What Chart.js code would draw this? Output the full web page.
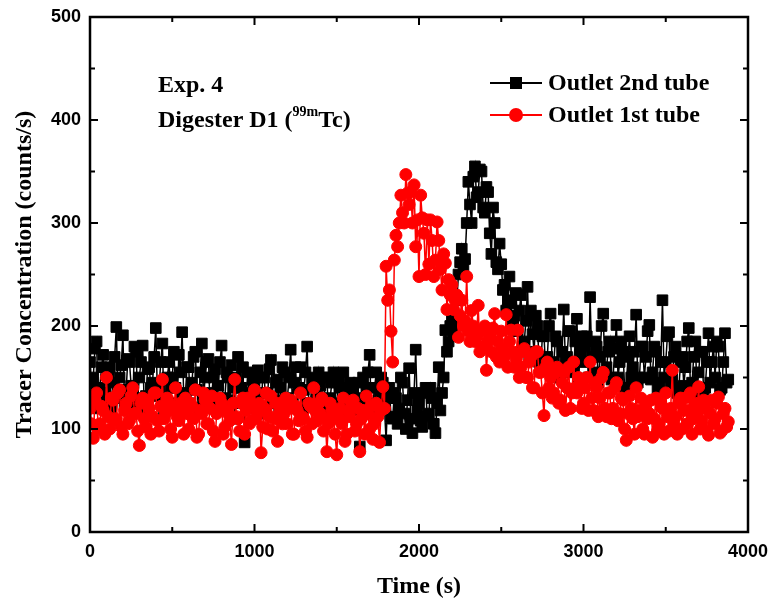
<!DOCTYPE html>
<html>
<head>
<meta charset="utf-8">
<script src="https://cdn.jsdelivr.net/npm/chart.js@4.4.1/dist/chart.umd.min.js"></script>
<style>
  html, body { margin: 0; padding: 0; background: #fff; }
  #wrap { width: 773px; height: 610px; }
</style>
</head>
<body>
<div id="wrap"><canvas id="tracer-chart" width="773" height="610"></canvas></div>
<script>
// sampling step of the detector (s)
const timeStep = 10;

// Outlet 2nd tube (black squares), counts/s, every 10 s from t = 0 (one row = 200 s)
const outlet2nd = [
  165, 140, 150, 178, 185, 120, 140, 160, 172, 135, 128, 155, 160, 118, 145, 170, 199, 130, 150, 162,
  191, 125, 138, 168, 165, 142, 125, 180, 175, 130, 150, 165, 181, 120, 132, 158, 160, 140, 145, 170,
  198, 132, 140, 165, 183, 118, 128, 150, 165, 140, 150, 175, 140, 125, 172, 155, 194, 130, 135, 160,
  160, 125, 145, 170, 175, 138, 120, 155, 183, 130, 150, 165, 168, 122, 135, 150, 158, 120, 142, 165,
  181, 118, 130, 155, 150, 128, 162, 140, 110, 150, 170, 125, 140, 160, 87, 135, 155, 120, 130, 148,
  145, 122, 157, 135, 120, 150, 150, 115, 135, 158, 167, 125, 128, 145, 148, 118, 140, 160, 155, 128,
  130, 150, 177, 125, 145, 160, 120, 140, 160, 118, 138, 155, 180, 125, 125, 148, 150, 120, 135, 155,
  142, 125, 118, 150, 150, 115, 130, 145, 155, 120, 125, 148, 140, 112, 155, 130, 120, 140, 145, 125,
  135, 118, 130, 145, 83, 125, 150, 120, 140, 155, 172, 115, 125, 140, 155, 118, 130, 150, 145, 120,
  89, 130, 140, 112, 110, 135, 130, 105, 120, 150, 145, 115, 100, 128, 159, 110, 96, 135, 177, 118,
  125, 108, 102, 135, 140, 112, 115, 140, 130, 105, 96, 125, 160, 118, 135, 150, 196, 175, 185, 200,
  205, 190, 200, 225, 250, 262, 275, 255, 265, 300, 340, 318, 300, 345, 355, 325, 330, 352, 350, 315,
  310, 335, 330, 290, 270, 315, 300, 262, 255, 280, 260, 235, 240, 215, 225, 248, 222, 200, 210, 232,
  195, 215, 230, 180, 185, 205, 238, 170, 215, 192, 175, 210, 200, 165, 160, 190, 190, 158, 170, 200,
  212, 160, 165, 190, 185, 150, 150, 175, 216, 165, 170, 195, 195, 155, 160, 185, 207, 148, 175, 190,
  165, 180, 190, 150, 228, 170, 155, 185, 180, 145, 170, 200, 212, 155, 160, 175, 185, 148, 150, 178,
  201, 150, 165, 185, 175, 140, 140, 170, 190, 150, 160, 175, 211, 145, 150, 180, 180, 150, 170, 195,
  201, 148, 155, 180, 175, 138, 145, 165, 225, 150, 165, 190, 194, 140, 150, 170, 180, 135, 140, 165,
  170, 142, 160, 185, 198, 140, 145, 170, 185, 135, 155, 175, 175, 138, 140, 165, 193, 145, 165, 180,
  150, 185, 180, 138, 140, 165, 193, 145, 148
];

// Outlet 1st tube (red circles), counts/s, every 10 s from t = 0 (one row = 200 s)
const outlet1st = [
  120, 105, 91, 128, 135, 100, 105, 122, 118, 95, 150, 112, 100, 130, 128, 108, 110, 135, 138, 102,
  95, 118, 125, 105, 108, 132, 140, 115, 115, 98, 84, 125, 130, 110, 102, 128, 120, 95, 112, 135,
  135, 108, 98, 122, 148, 110, 115, 130, 125, 100, 92, 118, 140, 112, 108, 125, 118, 95, 130, 115,
  100, 125, 122, 110, 138, 92, 95, 118, 115, 135, 128, 105, 105, 120, 132, 98, 88, 115, 118, 130,
  125, 95, 102, 118, 115, 108, 85, 125, 148, 112, 110, 98, 125, 130, 95, 118, 130, 105, 108, 122,
  138, 110, 115, 125, 77, 102, 120, 135, 100, 112, 132, 98, 110, 125, 88, 115, 125, 105, 115, 130,
  105, 120, 128, 95, 95, 122, 118, 108, 135, 112, 110, 98, 92, 125, 122, 105, 140, 118, 108, 125,
  115, 130, 98, 110, 78, 105, 125, 118, 110, 95, 75, 112, 120, 105, 130, 88, 95, 118, 112, 125,
  128, 98, 105, 120, 78, 110, 118, 95, 132, 115, 100, 122, 90, 105, 125, 112, 87, 118, 141, 120,
  258, 225, 235, 195, 165, 264, 288, 277, 300, 327, 310, 300, 347, 329, 318, 330, 300, 337, 277, 303,
  248, 327, 305, 290, 250, 303, 260, 303, 283, 248, 264, 301, 283, 255, 235, 270, 261, 216, 245, 230,
  240, 216, 225, 230, 189, 210, 225, 200, 205, 248, 195, 185, 215, 200, 185, 190, 220, 175, 195, 180,
  200, 157, 185, 190, 175, 198, 212, 170, 185, 165, 195, 178, 170, 211, 160, 185, 196, 175, 160, 168,
  196, 150, 160, 175, 178, 150, 150, 165, 170, 140, 140, 175, 175, 155, 155, 135, 113, 160, 165, 140,
  150, 130, 135, 155, 160, 125, 128, 145, 155, 118, 140, 160, 120, 135, 165, 140, 135, 150, 148, 120,
  125, 140, 150, 118, 165, 130, 118, 145, 140, 112, 130, 150, 155, 120, 112, 135, 135, 110, 120, 140,
  145, 108, 115, 130, 128, 100, 89, 115, 132, 120, 110, 95, 140, 112, 118, 130, 100, 95, 125, 110,
  115, 128, 92, 110, 130, 98, 105, 125, 120, 95, 135, 112, 98, 120, 157, 105, 112, 95, 125, 130,
  100, 118, 130, 105, 118, 135, 95, 110, 125, 115, 141, 100, 108, 128, 120, 98, 94, 115, 128, 105,
  110, 125, 131, 96, 98, 115, 120, 102, 107
];

const xTicks = [0, 1000, 2000, 3000, 4000];
const yTicks = [0, 100, 200, 300, 400, 500];

const serifBold = '"Liberation Serif", "Times New Roman", serif';
const sansTicks = '"Liberation Sans", Arial, sans-serif';

function toPoints(values) {
  return values.map((v, i) => ({ x: i * timeStep, y: v }));
}

/* frame, inward ticks, legend and the text labels */
const framePlugin = {
  id: 'frame',
  afterDraw(chart) {
    const ctx = chart.ctx;
    const area = chart.chartArea;
    const xs = chart.scales.x;
    const ys = chart.scales.y;
    ctx.save();
    ctx.strokeStyle = '#000';
    ctx.lineWidth = 2.5;
    ctx.strokeRect(area.left, area.top, area.right - area.left, area.bottom - area.top);

    ctx.lineWidth = 2;
    ctx.beginPath();
    for (let v = 0; v <= 4000; v += 500) {
      const px = xs.getPixelForValue(v);
      const len = v % 1000 === 0 ? 8 : 5;
      ctx.moveTo(px, area.bottom); ctx.lineTo(px, area.bottom - len);
      ctx.moveTo(px, area.top); ctx.lineTo(px, area.top + len);
    }
    for (let v = 0; v <= 500; v += 50) {
      const py = ys.getPixelForValue(v);
      const len = v % 100 === 0 ? 8 : 5;
      ctx.moveTo(area.left, py); ctx.lineTo(area.left + len, py);
      ctx.moveTo(area.right, py); ctx.lineTo(area.right - len, py);
    }
    ctx.stroke();

    // legend
    const legend = [
      { label: 'Outlet 2nd tube', color: '#000', shape: 'rect', y: 83 },
      { label: 'Outlet 1st tube', color: '#ff0000', shape: 'circle', y: 115 }
    ];
    legend.forEach(item => {
      ctx.strokeStyle = item.color;
      ctx.fillStyle = item.color;
      ctx.lineWidth = 2;
      ctx.beginPath();
      ctx.moveTo(490, item.y); ctx.lineTo(542, item.y);
      ctx.stroke();
      if (item.shape === 'rect') {
        ctx.fillRect(516 - 6, item.y - 6, 12, 12);
      } else {
        ctx.beginPath();
        ctx.arc(516, item.y, 7, 0, Math.PI * 2);
        ctx.fill();
      }
      ctx.fillStyle = '#000';
      ctx.font = 'bold 24px ' + serifBold;
      ctx.textAlign = 'left';
      ctx.textBaseline = 'middle';
      ctx.fillText(item.label, 548, item.y + 1);
    });

    // experiment labels
    ctx.fillStyle = '#000';
    ctx.font = 'bold 24px ' + serifBold;
    ctx.textAlign = 'left';
    ctx.textBaseline = 'middle';
    ctx.fillText('Exp. 4', 158, 86);
    let x = 158;
    const y = 121;
    const part1 = 'Digester D1 (';
    ctx.fillText(part1, x, y);
    x += ctx.measureText(part1).width;
    ctx.font = 'bold 14px ' + serifBold;
    ctx.fillText('99m', x, y - 9);
    x += ctx.measureText('99m').width;
    ctx.font = 'bold 24px ' + serifBold;
    ctx.fillText('Tc)', x, y);
    ctx.restore();
  }
};

const chartCanvas = document.getElementById('tracer-chart');

new Chart(chartCanvas, {
  type: 'line',
  data: {
    datasets: [{
      label: 'Outlet 2nd tube',
      data: toPoints(outlet2nd),
      borderColor: '#000',
      backgroundColor: '#000',
      borderWidth: 1.5,
      pointStyle: 'rect',
      pointRadius: 7.5,
      pointBorderWidth: 1,
      order: 1
    }, {
      label: 'Outlet 1st tube',
      data: toPoints(outlet1st),
      borderColor: '#ff0000',
      backgroundColor: '#ff0000',
      borderWidth: 1.5,
      pointStyle: 'circle',
      pointRadius: 6,
      pointBorderWidth: 1,
      order: 0
    }]
  },
  options: {
    responsive: false,
    animation: false,
    layout: { autoPadding: false, padding: { left: 0, right: 25, top: 17, bottom: 0 } },
    plugins: {
      legend: { display: false },
      tooltip: { enabled: false }
    },
    elements: { line: { tension: 0 } },
    scales: {
      x: {
        type: 'linear',
        min: 0,
        max: 4000,
        afterBuildTicks: scale => { scale.ticks = xTicks.map(v => ({ value: v })); },
        grid: { display: false, drawTicks: false },
        border: { display: false },
        ticks: {
          padding: 9,
          color: '#000',
          callback: value => String(value),
          font: { family: sansTicks, size: 18, weight: 'bold' }
        },
        title: {
          display: true,
          text: 'Time (s)',
          color: '#000',
          padding: { top: 0, bottom: 9 },
          font: { family: serifBold, size: 24, weight: 'bold' }
        },
        afterFit: scale => {
          scale.height = 78;
          scale.paddingLeft = 0;
          scale.paddingRight = 0;
        }
      },
      y: {
        min: 0,
        max: 500,
        afterBuildTicks: scale => { scale.ticks = yTicks.map(v => ({ value: v })); },
        grid: { display: false, drawTicks: false },
        border: { display: false },
        ticks: {
          padding: 9,
          color: '#000',
          callback: value => String(value),
          font: { family: sansTicks, size: 18, weight: 'bold' }
        },
        title: {
          display: true,
          text: 'Tracer Concentration (counts/s)',
          color: '#000',
          padding: { top: 10, bottom: 0 },
          font: { family: serifBold, size: 24, weight: 'bold' }
        },
        afterFit: scale => {
          scale.width = 90;
          scale.paddingTop = 0;
          scale.paddingBottom = 0;
        }
      }
    }
  },
  plugins: [framePlugin]
});
</script>
</body>
</html>
